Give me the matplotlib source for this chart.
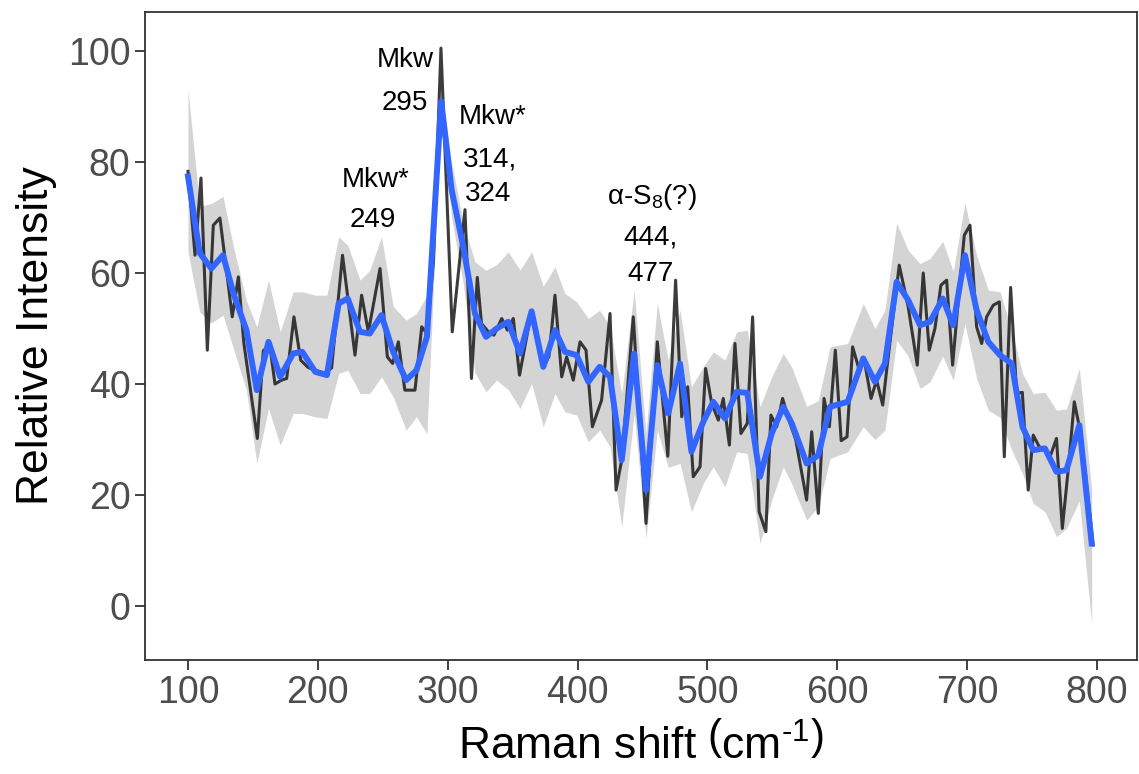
import matplotlib
matplotlib.use("Agg")
import matplotlib.pyplot as plt

plt.rcParams['font.family'] = ['Liberation Sans', 'DejaVu Sans']
plt.rcParams['mathtext.fontset'] = 'custom'
plt.rcParams['mathtext.rm'] = 'Liberation Sans'
plt.rcParams['mathtext.it'] = 'Liberation Sans:italic'

# Raw spectrum (black)
raw_x = [100, 105.4, 110, 114.9, 119.5, 124.6, 134.1, 138.8, 143, 153.4, 158, 163, 167, 172, 176,
         181.6, 186.8, 192.4, 198, 205, 210.6, 219, 228.6, 233.7, 238.9, 247.9, 253.5, 257.6, 262,
         267, 274.8, 280, 284, 289, 294.8, 303.5, 313.3, 318.3, 322.8, 326, 331, 335.6, 341.6, 346,
         350.5, 355.3, 364.6, 374, 378, 382.6, 387.8, 391.6, 396.7, 401.9, 406.5, 411.4, 418.5, 425,
         429.6, 434, 442.9, 452.7, 461.4, 469.5, 475.5, 480.2, 484.8, 489.1, 494.3, 498.6, 503.3,
         508.4, 512.2, 516.9, 521.2, 525.8, 530.7, 534.8, 539.8, 545, 548.9, 553.3, 557.9, 562.3,
         568, 576.4, 580.3, 585.4, 589.8, 593.9, 598.5, 603, 607.5, 611.8, 616.2, 621, 626, 630.3,
         635, 638, 647.7, 654.6, 661.6, 666.2, 670.8, 675.2, 679.8, 684.2, 688.8, 693.2, 697.8,
         702.2, 707.3, 711.2, 715, 720.1, 724.8, 728.6, 733.5, 738.1, 742.5, 747, 750.9, 755.5,
         759.9, 764, 768.8, 773.3, 778, 782.5, 786.4, 791, 797]
raw_y = [78.3, 63.2, 77.1, 46.1, 68.6, 69.9, 52.1, 59.3, 47.4, 30.2, 46, 47, 40, 40.7, 41,
         52.1, 44.3, 43, 42.5, 42, 42.9, 63.2, 45.2, 56, 49.4, 60.8, 44.9, 43.7, 47.6,
         38.9, 38.9, 50.3, 49.1, 62, 100.5, 49.4, 71.4, 41, 59.2, 50.9, 49.5, 48.8, 51.8, 49.7,
         51.8, 41.6, 53.2, 43.1, 45, 56, 41.3, 44.9, 40.7, 47.6, 46.1, 32.3, 37.1, 52.7,
         20.9, 26.3, 52.1, 14.9, 47.6, 27, 58.7, 34.1, 39.5, 23.3, 25.1, 42.8, 36.5,
         33.5, 37.4, 29, 47.3, 31.1, 32.9, 52.1, 17, 13.4, 34.4, 32.3, 37.4, 33.8,
         30, 19.1, 31.4, 16.7, 37.4, 32.3, 46.1, 29.8, 30.5, 46.7, 43.1, 44, 37.4, 40.7,
         36.2, 42.5, 61.4, 53.9, 43.4, 60, 46.1, 50, 57.8, 58.7, 43.4, 55.1, 66.8,
         68.6, 50.3, 47.3, 52.1, 54.2, 54.8, 26.9, 57.4, 38.3, 38.5, 20.9, 30.8, 28.7,
         28.4, 27, 30.2, 14, 25, 36.8, 32.3, 24, 11]

# Smoothed spectrum (blue) and ribbon
smooth_x = [100, 109, 118, 127, 135, 145, 153, 162, 171, 181, 188, 198, 207, 216, 223, 232.5, 240,
            249, 258, 268, 276, 284, 295, 303, 312, 321, 329.5, 337.7, 346.6, 355.7, 364.6, 373.6,
            382.6, 390.3, 399.3, 408.3, 417, 425, 434, 443.6, 452.7, 461.4, 469.8, 478.9, 487.7,
            496.8, 504.5, 513.5, 522.5, 530.7, 540.5, 549.5, 558.4, 565, 576.4, 585.4, 594.4, 608,
            620, 629, 636.7, 645.7, 654.6, 663.7, 671.4, 681.2, 689.3, 698.3, 707.3, 716.3, 725.3,
            734.3, 742.6, 750.9, 759.9, 768.8, 776.5, 786.4, 795.9]
smooth_y = [77.4, 63.6, 60.8, 63.2, 56.3, 49.7, 38.9, 47.6, 41.3, 45.5, 45.8, 42.2, 41.6, 54.5, 55.4,
            49.4, 49.1, 52.4, 45.8, 40.7, 42.5, 48.5, 90.9, 75, 64.7, 52.7, 48.5, 50, 51.2, 45.5,
            53.1, 43.1, 49.7, 45.8, 45.2, 40.4, 43.1, 41.3, 26.3, 45.5, 20.9, 43.4, 34.7, 43.7,
            27.8, 33.2, 36.8, 33.8, 38.6, 38.4, 23.3, 31.1, 35.9, 32.9, 25.7, 27.2, 35.9, 36.8,
            44.6, 40.4, 43.7, 58.4, 55.1, 50.6, 51.2, 55.4, 50.6, 63.2, 53.3, 47.6, 45.2,
            43.7, 32.3, 28.1, 28.4, 24.2, 24.5, 32.6, 11.3]
ribbon_hi = [93, 72, 72.5, 73.8, 64.7, 55, 50.3, 58.7, 49.4, 56.6, 56.6, 56, 56, 66.5, 65,
             58.7, 60.5, 66.5, 54, 51.5, 52.7, 56, 93, 80, 69, 62, 60.5, 61.5, 63.8, 60.5,
             63.8, 57.6, 61.1, 56.3, 54.8, 51.8, 53.3, 50.3, 38.3, 56.9, 31.1, 54.5, 44.3, 53.3,
             39.5, 43.1, 45.8, 44.3, 49.4, 49.7, 35.9, 41.3, 45.5, 43, 36, 37, 46.7, 47.3,
             54.5, 50, 53.3, 69, 64.1, 61.7, 62.6, 65.7, 60.3, 72.6, 63.2, 56.9, 56.6,
             49.7, 41.9, 38.3, 38.5, 35.3, 35.5, 42.8, 21]
ribbon_lo = [63.8, 53, 51, 52.4, 46.4, 38.9, 25.7, 35.6, 29, 34.7, 34.7, 34.1, 33.8, 41.9, 42.5,
             38.3, 38.3, 41.3, 37.7, 31.7, 34.1, 31, 88.5, 70, 58, 42, 38.6, 40.7, 39, 35.6,
             40.1, 32.3, 38.3, 35, 34.4, 29.6, 31.7, 28.7, 14.3, 34.7, 12.2, 31.7, 25, 25.7,
             17, 22.1, 25.1, 21.5, 27.8, 27.5, 11.3, 19.1, 25.1, 22, 15.5, 17.9, 26.6, 27.8,
             32.3, 30, 31.7, 47.9, 45, 39.2, 40.4, 45, 40.7, 50.9, 41, 35.3, 34,
             28.1, 23.9, 18.5, 17, 12.5, 14, 19, -3.1]

# Annotations: (text, x, y)
ann_text = ["Mkw", "295", "Mkw*", "249", "Mkw*", "314,", "324", "α-S$_{8}$(?)", "444,", "477"]
ann_x = [267, 267, 244.8, 242.5, 334.9, 332.6, 331, 457.3, 455.8, 455.8]
ann_y = [98.4, 90.6, 76.8, 69.5, 88.1, 80.4, 74.2, 73.7, 66.3, 59.8]

x_ticks = [100, 200, 300, 400, 500, 600, 700, 800]
y_ticks = [0, 20, 40, 60, 80, 100]

fig = plt.figure(figsize=(11.39, 7.74), dpi=100)
ax = fig.add_axes([145/1139, 1-660/774, (1137-145)/1139, (660-12)/774])

ax.fill_between(smooth_x, ribbon_lo, ribbon_hi, color='#D4D4D4', linewidth=0, zorder=1)
ax.plot(raw_x, raw_y, color='#1a1a1a', alpha=0.85, linewidth=2.2, zorder=2)
ax.plot(smooth_x, smooth_y, color='#3366FF', linewidth=4.3, zorder=3, solid_joinstyle='round')

for t, x, y in zip(ann_text, ann_x, ann_y):
    ax.text(x, y, t, fontsize=20, ha='center', va='center', color='black', zorder=4)

ax.set_xlim(66.9, 830.8)
ax.set_ylim(-9.7, 107)
ax.set_xticks(x_ticks)
ax.set_yticks(y_ticks)
ax.tick_params(axis='both', labelsize=27, colors='#4D4D4D', length=7, width=1.3, direction='out')
ax.tick_params(axis='both', color='#333333')
for s in ax.spines.values():
    s.set_color('#333333')
    s.set_linewidth(1.3)

ax.set_ylabel('Relative Intensity', fontsize=32, color='black', labelpad=8)
ax.set_xlabel(r'Raman shift $\left(\mathrm{cm}^{\text{-}1}\right)$', fontsize=32, color='black', labelpad=9)

fig.savefig('out.png', dpi=100)
